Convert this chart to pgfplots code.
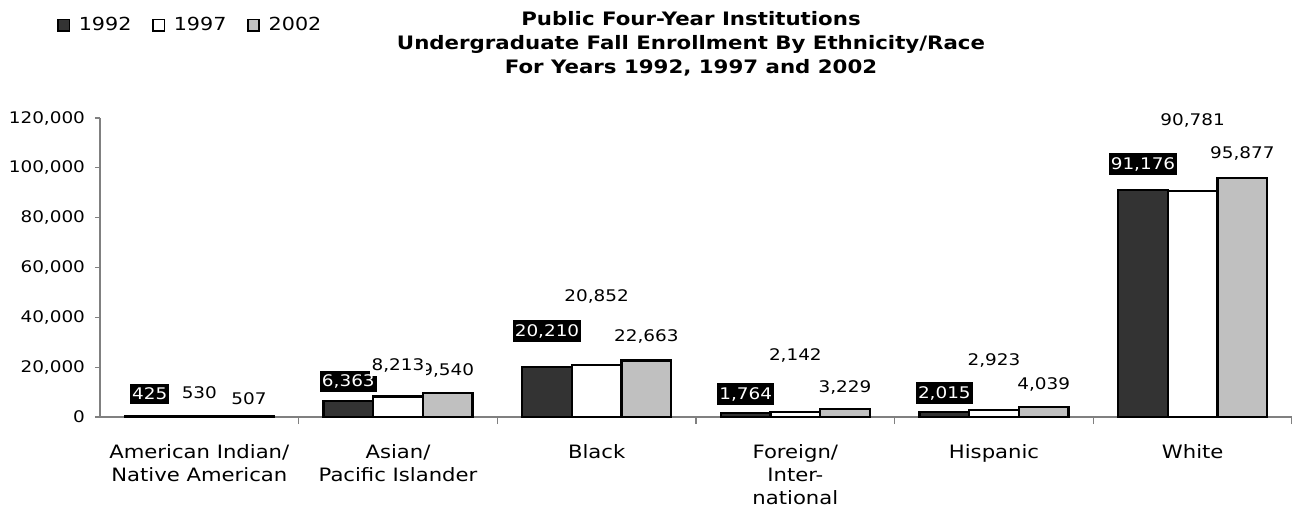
\documentclass[border=0pt]{standalone}
\usepackage{fontspec}
\setmainfont{DejaVu Sans}[FakeStretch=1.15]
\usepackage{pgfplots}
\pgfplotsset{compat=1.18}
\definecolor{dark}{HTML}{333333}
\definecolor{lgray}{HTML}{C0C0C0}
\definecolor{axgray}{HTML}{808080}
\begin{document}
\begin{tikzpicture}
\begin{axis}[
  scale only axis, width=894pt, height=224.25pt,
  xmin=-0.5, xmax=5.5, ymin=0, ymax=120000,
  axis x line*=bottom, axis y line*=left,
  axis line style={axgray, line width=0.8pt},
  tick align=outside,
  major tick length=3.75pt,
  minor tick length=5.25pt,
  xtick={0,...,5},
  xticklabels={{American Indian/\\Native American},{Asian/\\Pacific Islander},{Black},{Foreign/\\Inter-\\national},{Hispanic},{White}},
  minor xtick={0.5,1.5,2.5,3.5,4.5,5.5},
  major x tick style={draw=none},
  minor x tick style={draw=axgray, line width=0.8pt},
  ytick={0,20000,...,120000},
  ytick style={draw=axgray, line width=0.8pt},
  scaled y ticks=false,
  yticklabel style={font=\fontsize{12}{14}\selectfont, xshift=-4pt},
  /pgf/number format/fixed,
  /pgf/number format/1000 sep={,},
  /pgf/number format/assume math mode=true,
  xticklabel style={align=center, font=\fontsize{13.8}{17.25}\selectfont, yshift=-13.5pt},
  every axis title shift=0pt,
  title={Public Four-Year Institutions\\Undergraduate Fall Enrollment By Ethnicity/Race\\For Years 1992, 1997 and 2002},
  title style={at={(axis description cs:0.4958,1.248)}, anchor=center, align=center, font=\bfseries\fontsize{13.9}{18}\selectfont},
  legend columns=3,
  legend style={at={(axis description cs:-0.0361,1.31)}, anchor=west, draw=none, inner sep=0pt, font=\fontsize{13.5}{15}\selectfont,
    /tikz/every odd column/.append style={column sep=4.5pt},
    /tikz/every even column/.append style={column sep=13.5pt},
    nodes={inner xsep=2pt}},
  legend image code/.code={\draw[#1, line width=1.2pt] (0pt,-4.25pt) rectangle (8.5pt,4.25pt);},
  clip=false,
]
\addplot[ybar, bar width=0.25, bar shift=-0.25, fill=dark, draw=black, line width=1.6pt]
  coordinates {(0,425) (1,6363) (2,20210) (3,1764) (4,2015) (5,91176)};
\addlegendentry{1992}
\addplot[ybar, bar width=0.25, bar shift=0, fill=white, draw=black, line width=1.6pt]
  coordinates {(0,530) (1,8213) (2,20852) (3,2142) (4,2923) (5,90781)};
\addlegendentry{1997}
\addplot[ybar, bar width=0.25, bar shift=0.25, fill=lgray, draw=black, line width=1.6pt]
  coordinates {(0,507) (1,9540) (2,22663) (3,3229) (4,4039) (5,95877)};
\addlegendentry{2002}
% data labels
\begin{scope}[every node/.style={font=\fontsize{12}{14}\selectfont, inner xsep=1.5pt, inner ysep=3pt}]
\node[fill=black, text=white] at (axis cs:-0.25,9230) {425};
\node[fill=black, text=white] at (axis cs:0.75,14250) {6,363};
\node[fill=black, text=white] at (axis cs:1.75,34510) {20,210};
\node[fill=black, text=white] at (axis cs:2.75,9230) {1,764};
\node[fill=black, text=white] at (axis cs:3.75,9630) {2,015};
\node[fill=black, text=white] at (axis cs:4.75,101530) {91,176};
\node at (axis cs:0.25,7220) {507};
\node at (axis cs:1.25,18860) {9,540};
\node at (axis cs:2.25,32500) {22,663};
\node at (axis cs:3.25,12040) {3,229};
\node at (axis cs:4.25,13240) {4,039};
\node at (axis cs:5.25,105820) {95,877};
\node[fill=white] at (axis cs:0,9750) {530};
\node[fill=white] at (axis cs:1,20870) {8,213};
\node[fill=white] at (axis cs:2,48280) {20,852};
\node[fill=white] at (axis cs:3,24880) {2,142};
\node[fill=white] at (axis cs:4,22590) {2,923};
\node[fill=white] at (axis cs:5,118900) {90,781};
\end{scope}
\coordinate (SW) at (rel axis cs:0,0);
\coordinate (NE) at (rel axis cs:1,1);
\end{axis}
\pgfresetboundingbox
\path ([xshift=-75pt,yshift=-72.75pt]SW) rectangle ([yshift=88.5pt]NE);
\end{tikzpicture}
\end{document}
